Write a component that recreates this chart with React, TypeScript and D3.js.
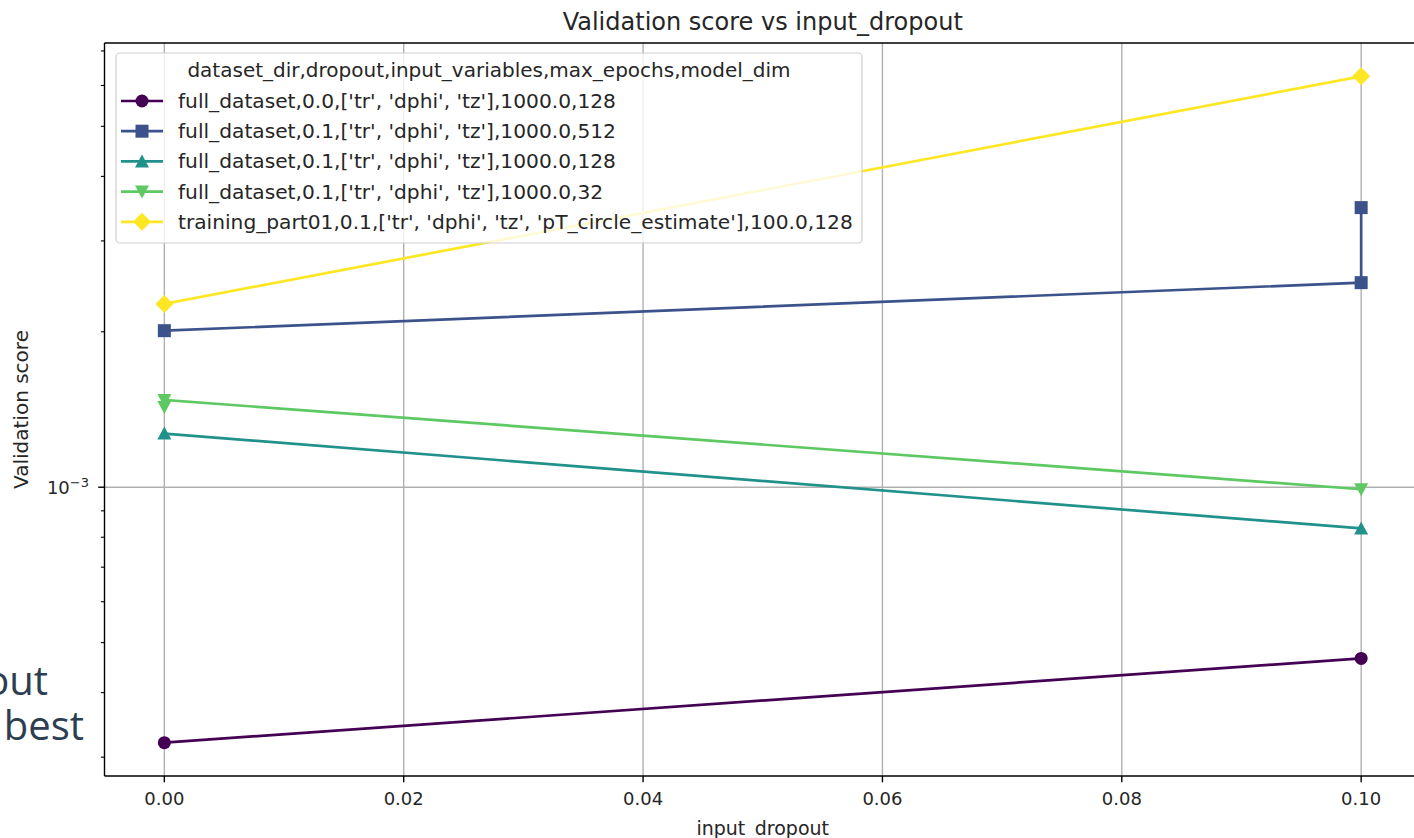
import React from "react";
import * as d3 from "d3";

// Validation score per input_dropout for each run configuration
const seriesLabels = [
  "full_dataset,0.0,['tr', 'dphi', 'tz'],1000.0,128",
  "full_dataset,0.1,['tr', 'dphi', 'tz'],1000.0,512",
  "full_dataset,0.1,['tr', 'dphi', 'tz'],1000.0,128",
  "full_dataset,0.1,['tr', 'dphi', 'tz'],1000.0,32",
  "training_part01,0.1,['tr', 'dphi', 'tz', 'pT_circle_estimate'],100.0,128",
];
const seriesX = [
  [0.0, 0.1],
  [0.0, 0.1, 0.1],
  [0.0, 0.1],
  [0.0, 0.0, 0.1],
  [0.0, 0.1],
];
const seriesY = [
  [3.2e-4, 4.66e-4],
  [2.01e-3, 2.49e-3, 3.48e-3],
  [1.27e-3, 8.32e-4],
  [1.43e-3, 1.476e-3, 9.91e-4],
  [2.265e-3, 6.25e-3],
];
const seriesColors = ["#440154", "#3b528b", "#21918c", "#5ec962", "#fde725"];
const seriesMarkers = ["circle", "square", "triangle-up", "triangle-down", "diamond"];
const legendTitle = "dataset_dir,dropout,input_variables,max_epochs,model_dim";
const xTicks = [0.0, 0.02, 0.04, 0.06, 0.08, 0.1];
const chartTitle = "Validation score vs input_dropout";
const xLabel = "input_dropout";
const yLabel = "Validation score";

const W = 1414;
const H = 838;
const M = { left: 104.5, right: 1421, top: 43, bottom: 776 };
const FONT = "'DejaVu Sans', sans-serif";

function Marker({ kind, x, y, color }: { kind: string; x: number; y: number; color: string }) {
  if (kind === "circle") return <circle cx={x} cy={y} r={6.5} fill={color} />;
  if (kind === "square")
    return <rect x={x - 6.5} y={y - 6.5} width={13} height={13} fill={color} />;
  if (kind === "triangle-up")
    return <path d={`M${x},${y - 7}L${x - 7},${y + 6}L${x + 7},${y + 6}Z`} fill={color} />;
  if (kind === "triangle-down")
    return <path d={`M${x},${y + 7}L${x - 7},${y - 6}L${x + 7},${y - 6}Z`} fill={color} />;
  return <path d={`M${x},${y - 9}L${x + 9},${y}L${x},${y + 9}L${x - 9},${y}Z`} fill={color} />;
}

export default function App() {
  React.useEffect(() => {
    document.body.style.margin = "0";
  }, []);

  const xs = d3.scaleLinear().domain([-0.005, 0.105]).range([M.left, M.right]);

  // log axis limits with a 5% margin in log space
  const allY = seriesY.flat();
  const lo = Math.log10(d3.min(allY) as number);
  const hi = Math.log10(d3.max(allY) as number);
  const pad = (hi - lo) * 0.05;
  const ys = d3
    .scaleLog()
    .domain([Math.pow(10, lo - pad), Math.pow(10, hi + pad)])
    .range([M.bottom, M.top]);

  const [d0, d1] = ys.domain();
  const majors: number[] = [];
  const minors: number[] = [];
  for (let e = Math.floor(Math.log10(d0)); e <= Math.ceil(Math.log10(d1)); e++) {
    for (let k = 1; k < 10; k++) {
      const v = k * Math.pow(10, e);
      if (v < d0 || v > d1) continue;
      if (k === 1) majors.push(e);
      else minors.push(v);
    }
  }

  const line = d3
    .line<[number, number]>()
    .x((d) => xs(d[0]))
    .y((d) => ys(d[1]));

  const legX = 116;
  const legY = 53;
  const legW = 746;
  const legH = 190;
  const rowY = (i: number) => 101 + i * 30.2;

  return (
    <svg
      width={W}
      height={H}
      style={{ position: "absolute", left: 0, top: 0, background: "#fff" }}
      fontFamily={FONT}
    >
      <rect x={0} y={0} width={W} height={H} fill="#fff" />

      {/* text fragments at the left edge */}
      <g fontFamily="'Open Sans', sans-serif" fontSize={40} fill="#2c3e50" textAnchor="end">
        <text x={48} y={695}>out</text>
        <text x={84} y={740}>best</text>
      </g>

      {/* grid */}
      <g stroke="#b0b0b0" strokeWidth={1.4}>
        {xTicks.map((t) => (
          <line key={t} x1={xs(t)} x2={xs(t)} y1={M.top} y2={M.bottom} />
        ))}
        {majors.map((e) => (
          <line key={e} x1={M.left} x2={M.right} y1={ys(Math.pow(10, e))} y2={ys(Math.pow(10, e))} />
        ))}
      </g>

      {/* series */}
      {seriesY.map((yv, i) => {
        const pts = yv.map((v, j) => [seriesX[i][j], v] as [number, number]);
        return (
          <g key={i}>
            <path d={line(pts) as string} fill="none" stroke={seriesColors[i]} strokeWidth={2.7} />
            {pts.map((p, j) => (
              <Marker key={j} kind={seriesMarkers[i]} x={xs(p[0])} y={ys(p[1])} color={seriesColors[i]} />
            ))}
          </g>
        );
      })}

      {/* legend */}
      <g>
        <rect
          x={legX}
          y={legY}
          width={legW}
          height={legH}
          rx={4}
          fill="#fff"
          fillOpacity={0.8}
          stroke="#d0d0d0"
          strokeWidth={1.2}
        />
        <text x={legX + legW / 2} y={77} fontSize={20} fill="#262626" textAnchor="middle">
          {legendTitle}
        </text>
        {seriesLabels.map((lab, i) => (
          <g key={i}>
            <line x1={121} x2={163} y1={rowY(i)} y2={rowY(i)} stroke={seriesColors[i]} strokeWidth={2.7} />
            <Marker kind={seriesMarkers[i]} x={142} y={rowY(i)} color={seriesColors[i]} />
            <text x={178} y={rowY(i) + 7} fontSize={20.2} fill="#262626">
              {lab}
            </text>
          </g>
        ))}
      </g>

      {/* spines */}
      <g stroke="#000" strokeWidth={1.4} fill="none">
        <line x1={M.left} x2={M.left} y1={M.top} y2={M.bottom} />
        <line x1={M.left} x2={M.right} y1={M.top} y2={M.top} />
        <line x1={M.left} x2={M.right} y1={M.bottom} y2={M.bottom} />
        <line x1={M.right} x2={M.right} y1={M.top} y2={M.bottom} />
      </g>

      {/* x axis */}
      <g fontSize={18} fill="#262626" textAnchor="middle">
        {xTicks.map((t) => (
          <g key={t}>
            <line x1={xs(t)} x2={xs(t)} y1={M.bottom} y2={M.bottom + 6.3} stroke="#000" strokeWidth={1.4} />
            <text x={xs(t)} y={805}>{t.toFixed(2)}</text>
          </g>
        ))}
        <text x={(M.left + M.right) / 2} y={835} fontSize={19}>{xLabel}</text>
      </g>

      {/* y axis */}
      <g>
        {minors.map((v) => (
          <line key={v} x1={M.left - 3.6} x2={M.left} y1={ys(v)} y2={ys(v)} stroke="#000" strokeWidth={1.1} />
        ))}
        {majors.map((e) => (
          <g key={e}>
            <line
              x1={M.left - 6.3}
              x2={M.left}
              y1={ys(Math.pow(10, e))}
              y2={ys(Math.pow(10, e))}
              stroke="#000"
              strokeWidth={1.4}
            />
            <text x={89} y={ys(Math.pow(10, e)) + 6.5} fontSize={18} fill="#262626" textAnchor="end">
              10
              <tspan dy={-7} fontSize={13}>
                {`\u2212${Math.abs(e)}`}
              </tspan>
            </text>
          </g>
        ))}
        <text
          transform={`translate(28,${(M.top + M.bottom) / 2}) rotate(-90)`}
          fontSize={20}
          fill="#262626"
          textAnchor="middle"
        >
          {yLabel}
        </text>
      </g>

      <text x={(M.left + M.right) / 2} y={30} fontSize={24} fill="#262626" textAnchor="middle">
        {chartTitle}
      </text>
    </svg>
  );
}
